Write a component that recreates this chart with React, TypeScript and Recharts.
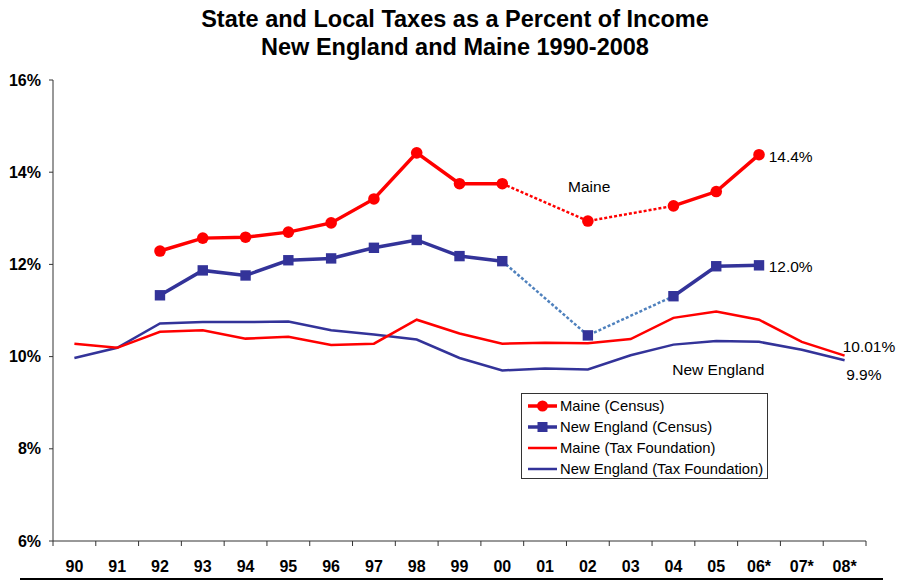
import React from "react";
import { LineChart, Line, XAxis, YAxis, ReferenceDot } from "recharts";

const years = ["90", "91", "92", "93", "94", "95", "96", "97", "98", "99", "00", "01", "02", "03", "04", "05", "06*", "07*", "08*"];

// Census: no data for 90, 91, 01, 03, 07, 08
const maineCensus = [null, null, 12.29, 12.57, 12.59, 12.7, 12.9, 13.42, 14.42, 13.75, 13.75, null, 12.94, null, 13.27, 13.58, 14.38, null, null];
const neCensus = [null, null, 11.33, 11.87, 11.76, 12.09, 12.13, 12.36, 12.53, 12.18, 12.07, null, 10.46, null, 11.31, 11.96, 11.98, null, null];

const maineTaxFdn = [10.28, 10.19, 10.54, 10.57, 10.39, 10.43, 10.25, 10.28, 10.8, 10.5, 10.28, 10.3, 10.29, 10.38, 10.84, 10.98, 10.8, 10.32, 10.02];
const neTaxFdn = [9.97, 10.19, 10.72, 10.75, 10.75, 10.76, 10.57, 10.48, 10.37, 9.97, 9.7, 9.74, 9.72, 10.03, 10.26, 10.34, 10.32, 10.15, 9.92];

// 00 -> 04 is drawn dotted (01 and 03 missing)
const bridgeFrom = 10;
const bridgeTo = 14;

const yTicks = [6, 8, 10, 12, 14, 16];

const annotations = [
  { text: "Maine", x: 12.03, y: 13.69 },
  { text: "New England", x: 15.05, y: 9.72 },
  { text: "14.4%", x: 16.74, y: 14.34 },
  { text: "12.0%", x: 16.74, y: 11.95 },
  { text: "10.01%", x: 18.57, y: 10.22 },
  { text: "9.9%", x: 18.45, y: 9.61 },
];

const legendItems = [
  { name: "Maine (Census)", color: "#ff0000", marker: "circle" },
  { name: "New England (Census)", color: "#333399", marker: "square" },
  { name: "Maine (Tax Foundation)", color: "#ff0000", marker: "none" },
  { name: "New England (Tax Foundation)", color: "#333399", marker: "none" },
];

const RED = "#ff0000";
const BLUE = "#333399";
const LIGHT_BLUE = "#4f81bd";
const FONT = "'Liberation Sans', Arial, sans-serif";

const data = years.map((label, i) => ({
  i,
  label,
  maineCensus: maineCensus[i],
  neCensus: neCensus[i],
  maineBridge: i >= bridgeFrom && i <= bridgeTo ? maineCensus[i] : null,
  neBridge: i >= bridgeFrom && i <= bridgeTo ? neCensus[i] : null,
  maineTaxFdn: maineTaxFdn[i],
  neTaxFdn: neTaxFdn[i],
}));

const labelTicks = years.map((_, i) => i);
const boundaryTicks = [...years.map((_, i) => i - 0.5), years.length - 0.5];

const CircleDot = (props: any) => {
  const { cx, cy, index } = props;
  if (cx == null || cy == null || props.value == null) return <g key={index} />;
  return <circle key={index} cx={cx} cy={cy} r={5.8} fill={RED} stroke="none" />;
};

const SquareDot = (props: any) => {
  const { cx, cy, index } = props;
  if (cx == null || cy == null || props.value == null) return <g key={index} />;
  return <rect key={index} x={cx - 5.2} y={cy - 5.2} width={10.4} height={10.4} fill={BLUE} stroke="none" />;
};

function ChartLegend() {
  return (
    <div
      style={{
        position: "absolute",
        left: 521,
        top: 393,
        width: 247,
        height: 86,
        border: "1px solid #333",
        background: "#fff",
        fontFamily: FONT,
        fontSize: 14.8,
        color: "#000",
        boxSizing: "border-box",
        paddingTop: 2,
      }}
    >
      {legendItems.map((item) => (
        <div key={item.name} style={{ display: "flex", alignItems: "center", height: 20.8 }}>
          <svg width={34} height={14} style={{ marginLeft: 4, flexShrink: 0 }}>
            <line x1={2} y1={7} x2={31} y2={7} stroke={item.color} strokeWidth={item.marker === "none" ? 2.5 : 3.5} />
            {item.marker === "circle" && <circle cx={16.5} cy={7} r={5.5} fill={item.color} />}
            {item.marker === "square" && <rect x={11.5} y={2} width={10} height={10} fill={item.color} />}
          </svg>
          <span style={{ whiteSpace: "nowrap" }}>{item.name}</span>
        </div>
      ))}
    </div>
  );
}

export default function App() {
  return (
    <div style={{ position: "absolute", left: 0, top: 0, width: 898, height: 580, background: "#fff", fontFamily: FONT }}>
      <div
        style={{
          position: "absolute",
          left: 0,
          top: 5,
          width: 910,
          textAlign: "center",
          fontWeight: "bold",
          fontSize: 23.5,
          lineHeight: "28px",
          color: "#000",
        }}
      >
        State and Local Taxes as a Percent of Income
        <br />
        New England and Maine 1990-2008
      </div>

      <LineChart width={898} height={580} data={data} margin={{ top: 80, right: 32, bottom: 9, left: 8 }}>
        <XAxis
          xAxisId="grid"
          dataKey="i"
          type="number"
          domain={[-0.5, years.length - 0.5]}
          ticks={boundaryTicks}
          interval={0}
          tickFormatter={() => ""}
          tickSize={5}
          height={1}
          axisLine={{ stroke: "#333", strokeWidth: 1 }}
          tickLine={{ stroke: "#333", strokeWidth: 1 }}
        />
        <XAxis
          xAxisId="lab"
          dataKey="i"
          type="number"
          domain={[-0.5, years.length - 0.5]}
          ticks={labelTicks}
          interval={0}
          tickFormatter={(v: number) => years[v]}
          axisLine={false}
          tickLine={false}
          tickSize={0}
          tickMargin={19}
          height={29}
          tick={{ fontSize: 16, fontWeight: "bold", fill: "#000", fontFamily: FONT }}
        />
        <YAxis
          type="number"
          domain={[6, 16]}
          ticks={yTicks}
          width={45}
          tickFormatter={(v: number) => `${v}%`}
          tickSize={4}
          tickMargin={8}
          axisLine={{ stroke: "#333", strokeWidth: 1 }}
          tickLine={{ stroke: "#333", strokeWidth: 1 }}
          tick={{ fontSize: 16, fontWeight: "bold", fill: "#000", fontFamily: FONT }}
        />

        <Line xAxisId="lab" type="linear" dataKey="neTaxFdn" stroke={BLUE} strokeWidth={2.5} dot={false} isAnimationActive={false} />
        <Line xAxisId="lab" type="linear" dataKey="maineTaxFdn" stroke={RED} strokeWidth={2.5} dot={false} isAnimationActive={false} />

        <Line xAxisId="lab" type="linear" dataKey="neBridge" stroke={LIGHT_BLUE} strokeWidth={2.5} strokeDasharray="3 2" connectNulls dot={false} isAnimationActive={false} />
        <Line xAxisId="lab" type="linear" dataKey="maineBridge" stroke={RED} strokeWidth={2.5} strokeDasharray="3 2" connectNulls dot={false} isAnimationActive={false} />

        <Line xAxisId="lab" type="linear" dataKey="neCensus" stroke={BLUE} strokeWidth={3.5} dot={<SquareDot />} isAnimationActive={false} />
        <Line xAxisId="lab" type="linear" dataKey="maineCensus" stroke={RED} strokeWidth={3.5} dot={<CircleDot />} isAnimationActive={false} />

        {annotations.map((a) => (
          <ReferenceDot
            key={a.text}
            xAxisId="lab"
            x={a.x}
            y={a.y}
            r={0}
            ifOverflow="visible"
            stroke="none"
            fill="none"
            label={{ value: a.text, position: "center", fontSize: 15.5, fill: "#000", fontFamily: FONT }}
          />
        ))}
      </LineChart>

      <ChartLegend />

      <div style={{ position: "absolute", left: 20, top: 578, width: 863, height: 3, background: "#000" }} />
    </div>
  );
}
